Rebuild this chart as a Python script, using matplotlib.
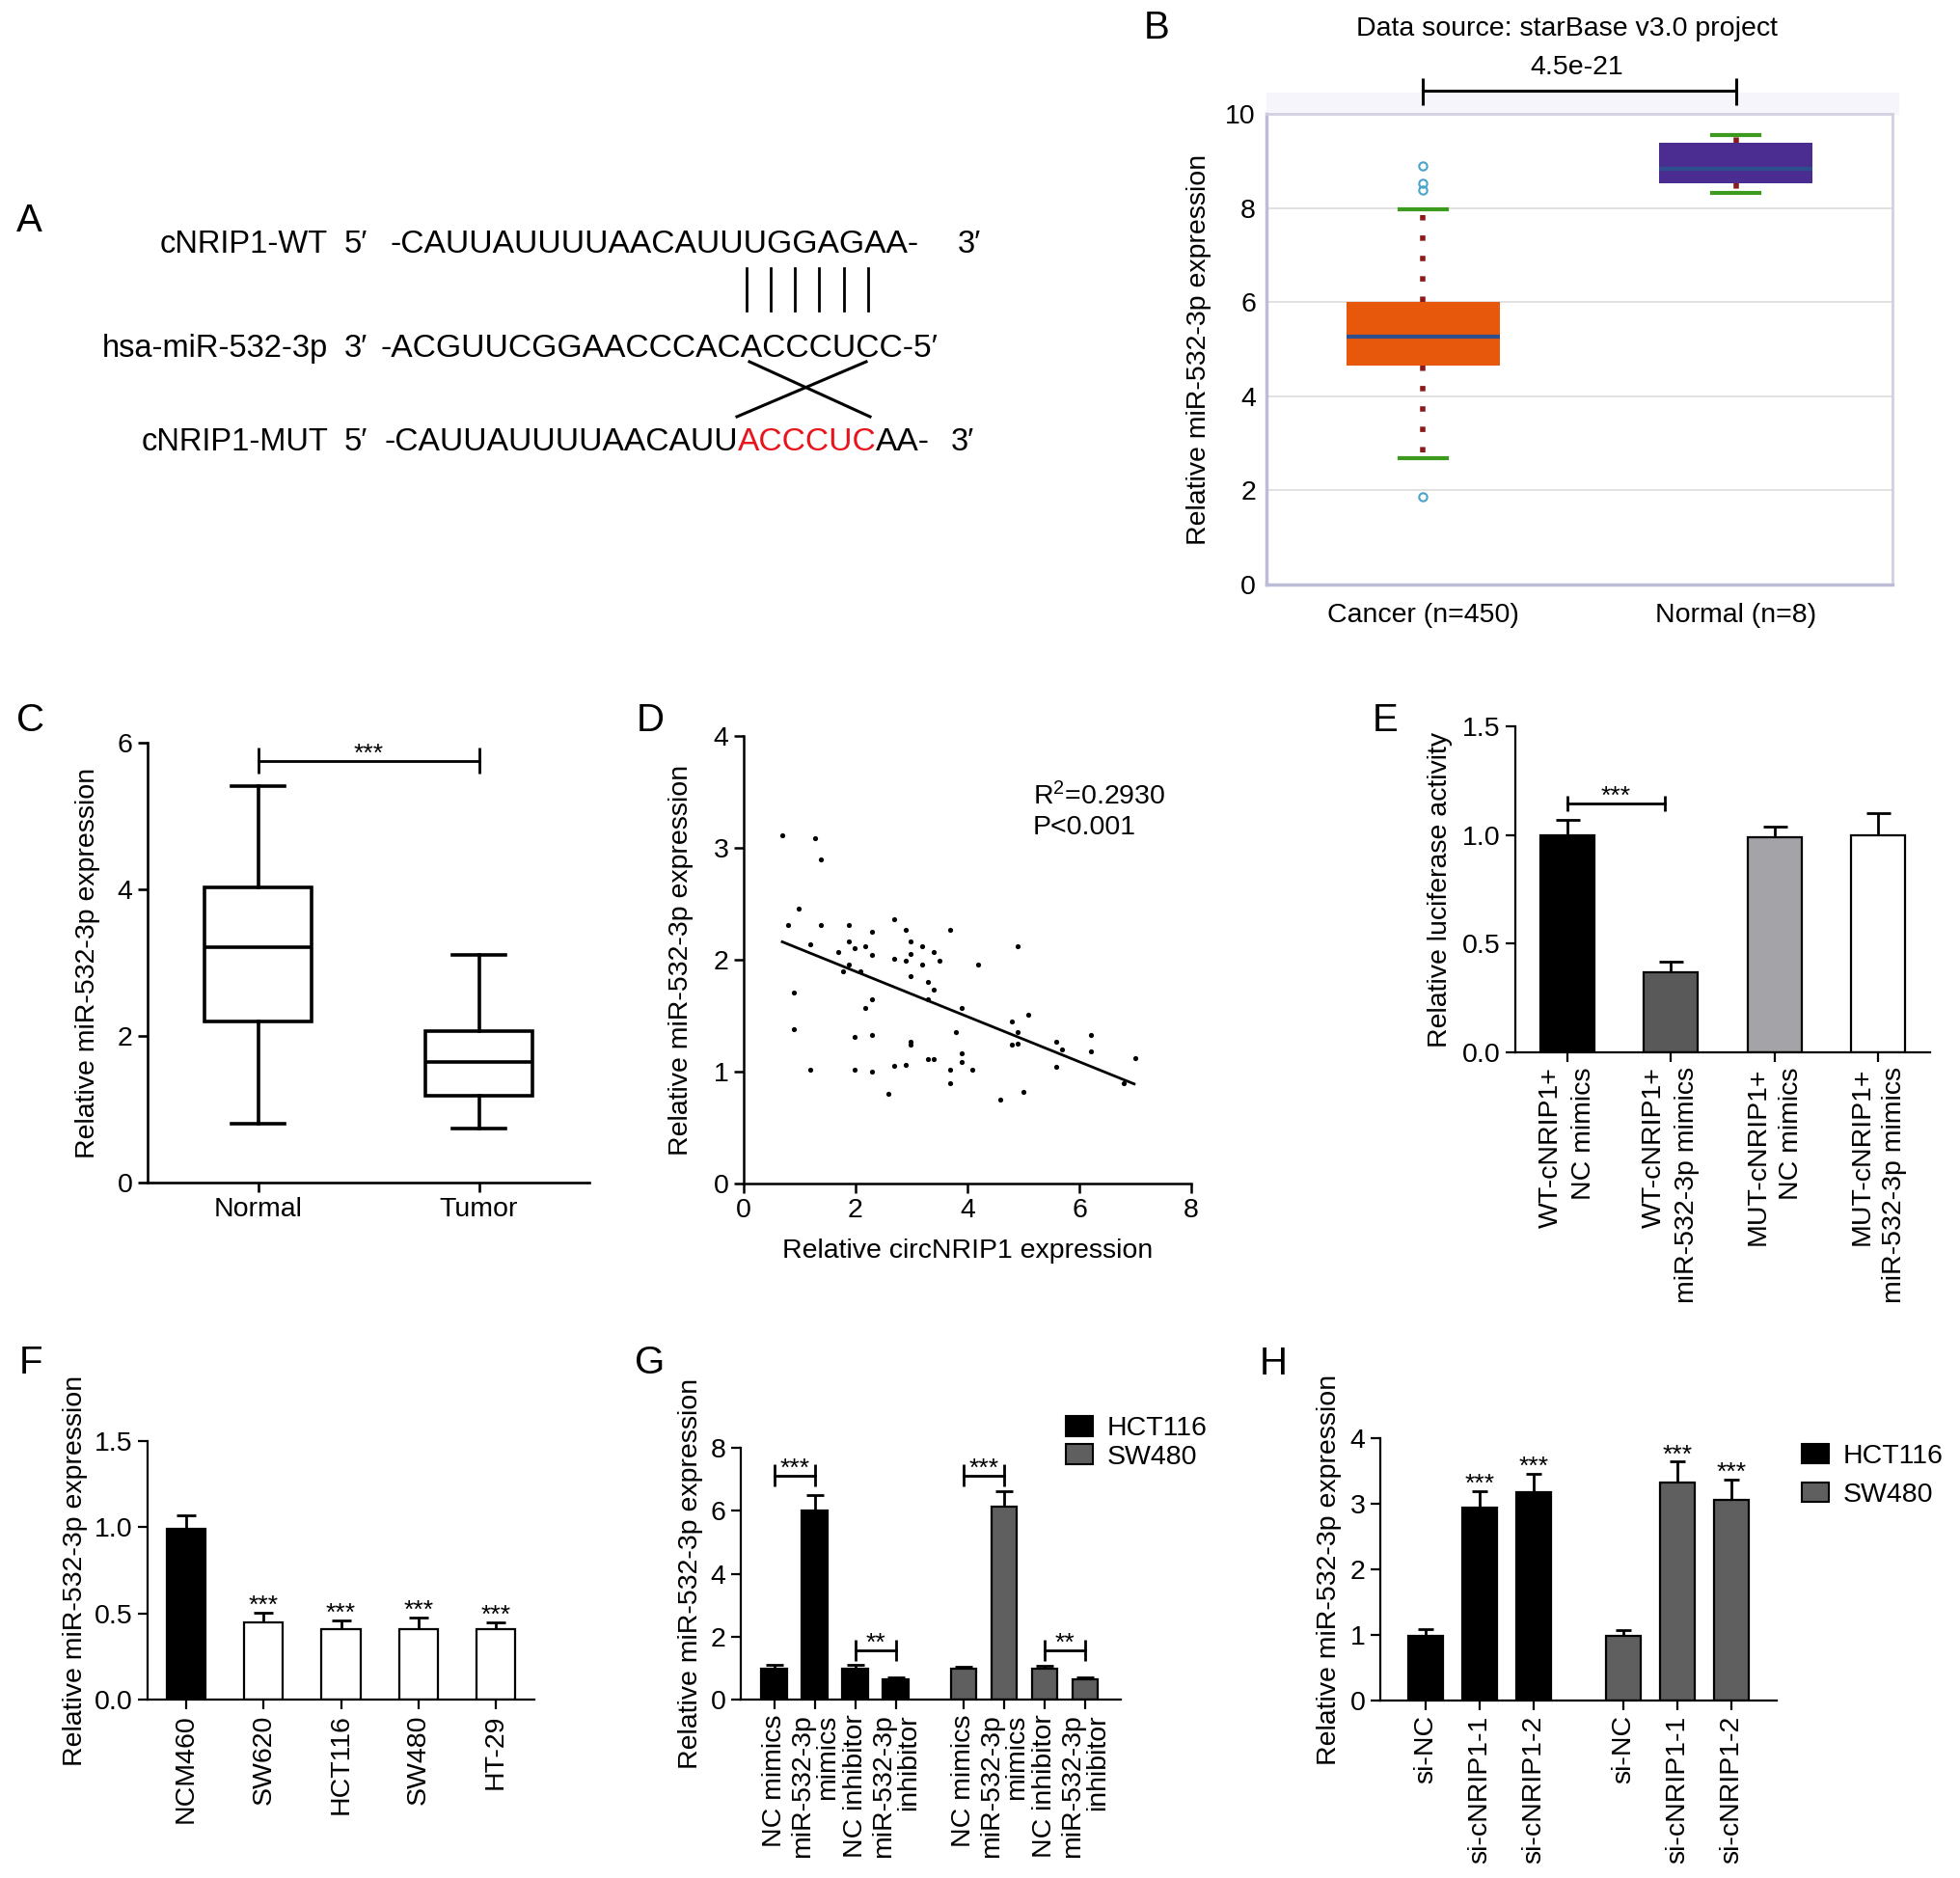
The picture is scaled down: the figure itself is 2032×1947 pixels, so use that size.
import numpy as np
import matplotlib
matplotlib.use("Agg")
import matplotlib.pyplot as plt
from matplotlib.patches import Patch, Rectangle

plt.rcParams['font.family'] = ['Liberation Sans', 'DejaVu Sans']
plt.rcParams['font.size'] = 20.5
plt.rcParams['mathtext.fontset'] = 'custom'
plt.rcParams['mathtext.rm'] = 'Liberation Sans'
plt.rcParams['mathtext.it'] = 'Liberation Sans:italic'

W, H = 2032, 1947

# A: binding site sequences
wt_name, wt_seq = 'cNRIP1-WT', '-CAUUAUUUUAACAUUUGGAGAA-'
mir_name, mir_seq = 'hsa-miR-532-3p', '-ACGUUCGGAACCCACACCCUCC-5\u2032'
mut_name = 'cNRIP1-MUT'
mut_seq = ['-CAUUAUUUUAACAUU', 'ACCCUC', 'AA-']

# B: starBase box plot
b_groups = ['Cancer (n=450)', 'Normal (n=8)']
b_q1 = [4.66, 8.52]
b_med = [5.27, 8.84]
b_q3 = [6.0, 9.39]
b_lo = [2.68, 8.32]
b_hi = [7.97, 9.55]
b_fliers = [[8.9, 8.53, 8.38, 1.87], []]
b_colors = ['#e8580c', '#4b2c91']
b_pvalue = '4.5e-21'

# C: tissue box plot
c_groups = ['Normal', 'Tumor']
c_q1 = [2.2, 1.18]
c_med = [3.21, 1.65]
c_q3 = [4.02, 2.07]
c_lo = [0.8, 0.74]
c_hi = [5.41, 3.1]

# D: correlation scatter
d_x = [0.69, 1.28, 1.38, 0.99, 0.79, 1.38, 1.19, 0.89, 0.89, 1.19,
       1.69, 1.88, 1.88, 1.99, 2.18, 2.29, 2.29, 1.88, 1.78, 2.08,
       2.18, 2.29, 1.99, 2.29, 1.99, 2.29, 2.59, 2.69, 2.89, 2.69,
       2.89, 2.99, 2.99, 2.99, 3.19, 3.19, 3.39, 3.50, 3.29, 3.39,
       3.29, 2.99, 2.99, 2.69, 2.89, 3.29, 3.39, 3.69, 3.69, 3.69,
       3.79, 3.89, 3.89, 3.89, 4.09, 4.19, 4.59, 4.80, 4.80, 4.89,
       4.89, 4.89, 5.09, 5.00, 5.59, 5.69, 5.59, 6.20, 6.20, 6.80, 7.00]
d_y = [3.11, 3.09, 2.90, 2.46, 2.31, 2.31, 2.14, 1.71, 1.38, 1.02,
       2.07, 2.31, 2.16, 2.10, 2.12, 2.25, 2.04, 1.96, 1.90, 1.90,
       1.57, 1.65, 1.31, 1.33, 1.02, 1.00, 0.80, 2.36, 2.27, 2.01,
       1.99, 2.16, 2.05, 1.85, 2.12, 1.96, 2.07, 1.99, 1.80, 1.73,
       1.65, 1.27, 1.24, 1.05, 1.06, 1.11, 1.11, 2.27, 1.02, 0.90,
       1.35, 1.57, 1.16, 1.09, 1.02, 1.96, 0.75, 1.45, 1.24, 2.12,
       1.35, 1.25, 1.51, 0.82, 1.27, 1.20, 1.04, 1.33, 1.18, 0.90, 1.12]
d_fit_x = [0.69, 6.98]
d_fit_y = [2.16, 0.89]

# E: luciferase
e_groups = ['WT-cNRIP1+\nNC mimics', 'WT-cNRIP1+\nmiR-532-3p mimics',
            'MUT-cNRIP1+\nNC mimics', 'MUT-cNRIP1+\nmiR-532-3p mimics']
e_vals = [1.0, 0.37, 0.99, 1.0]
e_err = [0.07, 0.045, 0.05, 0.1]
e_colors = ['#000000', '#595959', '#a3a3a8', '#ffffff']

# F: cell lines
f_groups = ['NCM460', 'SW620', 'HCT116', 'SW480', 'HT-29']
f_vals = [0.99, 0.45, 0.41, 0.41, 0.41]
f_err = [0.08, 0.055, 0.05, 0.065, 0.04]
f_colors = ['#000000', '#ffffff', '#ffffff', '#ffffff', '#ffffff']

# G: mimics / inhibitor
g_groups = ['NC mimics', 'miR-532-3p\nmimics', 'NC inhibitor', 'miR-532-3p\ninhibitor']
g_hct = [0.98, 6.0, 0.98, 0.63]
g_hct_err = [0.12, 0.5, 0.12, 0.07]
g_sw = [0.98, 6.13, 0.98, 0.63]
g_sw_err = [0.06, 0.5, 0.09, 0.06]

# H: knockdown
h_groups = ['si-NC', 'si-cNRIP1-1', 'si-cNRIP1-2']
h_hct = [0.99, 2.94, 3.17]
h_hct_err = [0.1, 0.25, 0.29]
h_sw = [0.98, 3.32, 3.06]
h_sw_err = [0.09, 0.32, 0.31]

cell_lines = ['HCT116', 'SW480']
cell_colors = ['#000000', '#5f5f5f']
ylab = 'Relative miR-532-3p expression'

fig = plt.figure(figsize=(W / 100, H / 100), dpi=100)


def px_axes(x0, y0, x1, y1):
    return fig.add_axes([x0 / W, 1 - y1 / H, (x1 - x0) / W, (y1 - y0) / H])


def prism(ax, lw=1.6):
    ax.spines[['top', 'right']].set_visible(False)
    ax.spines[['left', 'bottom']].set_linewidth(lw)
    ax.tick_params(direction='out', length=7, width=lw, pad=4)


def bracket(ax, x0, x1, y, h, label, lw=2):
    ax.plot([x0, x1], [y, y], color='k', lw=lw, clip_on=False)
    ax.vlines([x0, x1], y - h, y + h, color='k', lw=lw, clip_on=False)
    ax.text((x0 + x1) / 2, y, label, ha='center', va='baseline', fontsize=19)


def bars(ax, x, vals, err, colors, width, capsize):
    ax.errorbar(x, vals, yerr=[np.zeros(len(vals)), err], fmt='none', ecolor='k',
                elinewidth=2, capsize=capsize, capthick=2, zorder=1, clip_on=False)
    ax.bar(x, vals, width=width, color=colors, edgecolor='k', linewidth=1.6, zorder=2)


def set_ylabel(ax, text, xpos):
    ax.set_ylabel(text, va='center')
    ax.yaxis.set_label_coords(xpos, 0.5)


# ---------- B ----------
axB = px_axes(1313, 118, 1962, 606)
b_stats = [dict(med=m, q1=a, q3=b, whislo=lo, whishi=hi, fliers=fl, label=g)
           for g, a, m, b, lo, hi, fl in zip(b_groups, b_q1, b_med, b_q3, b_lo, b_hi, b_fliers)]
bp = axB.bxp(b_stats, positions=[0, 1], widths=0.49, capwidths=0.15, patch_artist=True,
             boxprops=dict(edgecolor='none'),
             medianprops=dict(color='#2d4f8e', linewidth=3),
             whiskerprops=dict(color='#8b1a1a', linewidth=4, linestyle=(0, (1, 2.8))),
             capprops=dict(color='#3c9a1e', linewidth=3),
             flierprops=dict(marker='o', markerfacecolor='none', markeredgecolor='#4aa3c8',
                             markersize=6, markeredgewidth=1.5))
for patch, col in zip(bp['boxes'], b_colors):
    patch.set_facecolor(col)
axB.set_xlim(-0.5, 1.5)
axB.set_ylim(0, 10)
axB.set_yticks(range(0, 11, 2))
axB.grid(axis='y', color='#dcdcdc', linewidth=1.2)
axB.set_axisbelow(True)
for s in ['left', 'bottom']:
    axB.spines[s].set_color('#bcbcd6')
    axB.spines[s].set_linewidth(2.5)
for s in ['top', 'right']:
    axB.spines[s].set_color('#d0d0e0')
    axB.spines[s].set_linewidth(2)
axB.tick_params(axis='y', length=0, pad=8)
axB.tick_params(axis='x', length=0, pad=14)
axB.add_patch(Rectangle((0, 1), 1.01, 0.045, transform=axB.transAxes, color='#f5f5fb',
                        clip_on=False, zorder=0))
set_ylabel(axB, ylab, -0.108)
axB.plot([0, 1], [10.49, 10.49], color='k', lw=2.2, clip_on=False)
axB.vlines([0, 1], 10.18, 10.76, color='k', lw=2.2, clip_on=False)
axB.text(0.49, 10.98, b_pvalue, ha='center', va='center')
axB.text(0.46, 11.8, 'Data source: starBase v3.0 project', ha='center', va='center')

# ---------- C ----------
axC = px_axes(153, 770, 611, 1226)
c_stats = [dict(med=m, q1=a, q3=b, whislo=lo, whishi=hi, fliers=[], label=g)
           for g, a, m, b, lo, hi in zip(c_groups, c_q1, c_med, c_q3, c_lo, c_hi)]
lw_c = 2.6
axC.bxp(c_stats, positions=[0, 1], widths=0.485, capwidths=0.24, showfliers=False,
        patch_artist=True,
        boxprops=dict(facecolor='white', edgecolor='k', linewidth=lw_c),
        medianprops=dict(color='k', linewidth=lw_c),
        whiskerprops=dict(color='k', linewidth=lw_c),
        capprops=dict(color='k', linewidth=lw_c))
prism(axC, 1.9)
axC.set_xlim(-0.5, 1.5)
axC.set_ylim(0, 6)
axC.set_yticks([0, 2, 4, 6])
set_ylabel(axC, ylab, -0.135)
bracket(axC, 0, 1, 5.755, 0.18, '***')

# ---------- D ----------
axD = px_axes(771, 763, 1235, 1227)
axD.scatter(d_x, d_y, s=14, c='k', linewidths=0, zorder=3)
axD.plot(d_fit_x, d_fit_y, color='k', lw=2)
prism(axD, 1.8)
axD.set_xlim(0, 8)
axD.set_ylim(0, 4)
axD.set_xticks(range(0, 9, 2))
axD.set_yticks(range(0, 5))
set_ylabel(axD, ylab, -0.14)
axD.set_xlabel('Relative circNRIP1 expression', va='center')
axD.xaxis.set_label_coords(0.5, -0.151)
axD.text(5.17, 3.46, 'R$^{2}$=0.2930', ha='left', va='center')
axD.text(5.17, 3.18, 'P<0.001', ha='left', va='center')

# ---------- E ----------
axE = px_axes(1571, 753, 2001, 1091)
xe = np.arange(len(e_vals))
bars(axE, xe, e_vals, e_err, e_colors, 0.52, 9)
prism(axE, 1.6)
axE.set_xlim(-0.5, 3.5)
axE.set_ylim(0, 1.5)
axE.set_yticks([0.0, 0.5, 1.0, 1.5])
axE.yaxis.set_major_formatter(matplotlib.ticker.FormatStrFormatter('%.1f'))
axE.set_xticks(xe)
axE.set_xticklabels(e_groups, rotation=90, ha='center', va='top', multialignment='right',
                    linespacing=1.4)
set_ylabel(axE, 'Relative luciferase activity', -0.181)
bracket(axE, 0, 0.94, 1.145, 0.035, '***')

# ---------- F ----------
axF = px_axes(153, 1494, 554, 1762)
xf = np.arange(len(f_vals))
bars(axF, xf, f_vals, f_err, f_colors, 0.5, 7)
prism(axF, 1.6)
axF.set_xlim(-0.5, 4.5)
axF.set_ylim(0, 1.5)
axF.set_yticks([0.0, 0.5, 1.0, 1.5])
axF.yaxis.set_major_formatter(matplotlib.ticker.FormatStrFormatter('%.1f'))
axF.set_xticks(xf)
axF.set_xticklabels(f_groups, rotation=90, ha='center', va='top')
set_ylabel(axF, ylab, -0.187)
for x, v, e in zip(xf[1:], f_vals[1:], f_err[1:]):
    axF.text(x, v + e, '***', ha='center', va='baseline', fontsize=19)

# ---------- G ----------
axG = px_axes(768, 1501, 1162, 1762)
xg1 = np.arange(4)
xg2 = np.arange(4) + 4.67
bars(axG, xg1, g_hct, g_hct_err, cell_colors[0], 0.64, 6.5)
bars(axG, xg2, g_sw, g_sw_err, cell_colors[1], 0.64, 6.5)
prism(axG, 1.6)
axG.set_xlim(-0.83, 8.55)
axG.set_ylim(0, 8)
axG.set_yticks(range(0, 9, 2))
axG.set_xticks(np.concatenate([xg1, xg2]))
axG.set_xticklabels(g_groups * 2, rotation=90, ha='center', va='top', multialignment='right',
                    linespacing=1.0)
set_ylabel(axG, ylab, -0.132)
for xs in (xg1, xg2):
    bracket(axG, xs[0], xs[1], 7.12, 0.36, '***')
    bracket(axG, xs[2], xs[3], 1.57, 0.33, '**')
fig.legend(handles=[Patch(facecolor=c, edgecolor='k', linewidth=1.5) for c in cell_colors],
           labels=cell_lines, loc='upper left', bbox_to_anchor=(1105 / W, 1 - 1468 / H),
           frameon=False, handlelength=1.0, handleheight=0.75, handletextpad=0.5,
           labelspacing=0.1, borderpad=0, borderaxespad=0)

# ---------- H ----------
axH = px_axes(1431, 1491, 1842, 1763)
xh1 = np.arange(3)
xh2 = np.arange(3) + 3.65
bars(axH, xh1, h_hct, h_hct_err, cell_colors[0], 0.64, 6)
bars(axH, xh2, h_sw, h_sw_err, cell_colors[1], 0.64, 6)
prism(axH, 1.6)
axH.set_xlim(-0.84, 6.49)
axH.set_ylim(0, 4)
axH.set_yticks(range(0, 5))
axH.set_xticks(np.concatenate([xh1, xh2]))
axH.set_xticklabels(h_groups * 2, rotation=90, ha='center', va='top')
set_ylabel(axH, ylab, -0.129)
for xs, vals, errs in ((xh1, h_hct, h_hct_err), (xh2, h_sw, h_sw_err)):
    for x, v, e in zip(xs[1:], vals[1:], errs[1:]):
        axH.text(x, v + e, '***', ha='center', va='baseline', fontsize=19)
fig.legend(handles=[Patch(facecolor=c, edgecolor='k', linewidth=1.5) for c in cell_colors],
           labels=cell_lines, loc='upper left', bbox_to_anchor=(1868 / W, 1 - 1497 / H),
           frameon=False, handlelength=1.0, handleheight=0.7, handletextpad=0.5,
           labelspacing=0.5, borderpad=0, borderaxespad=0)

# ---------- overlay: panel A and letters ----------
ov = fig.add_axes([0, 0, 1, 1])
ov.set_xlim(0, W)
ov.set_ylim(H, 0)
ov.axis('off')

fs_a = 23.5
fs_seq = 24.2
for name, y in ((wt_name, 262), (mir_name, 370), (mut_name, 467)):
    ov.text(340, y, name, ha='right', va='baseline', fontsize=fs_a)
ov.text(357, 262, '5\u2032', ha='left', va='baseline', fontsize=fs_a)
ov.text(357, 370, '3\u2032', ha='left', va='baseline', fontsize=fs_a)
ov.text(357, 467, '5\u2032', ha='left', va='baseline', fontsize=fs_a)
ov.text(404, 262, wt_seq, ha='left', va='baseline', fontsize=fs_seq)
ov.text(993, 262, '3\u2032', ha='left', va='baseline', fontsize=fs_a)
ov.text(394, 370, mir_seq, ha='left', va='baseline', fontsize=fs_seq)
prev = ov.text(398, 467, mut_seq[0], ha='left', va='baseline', fontsize=fs_seq)
for part, col in zip(mut_seq[1:], ['#e8141c', 'k']):
    prev = ov.annotate(part, xy=(1, 0), xycoords=prev, ha='left', va='bottom',
                       fontsize=fs_seq, color=col)
ov.text(986, 467, '3\u2032', ha='left', va='baseline', fontsize=fs_a)
for x in [774, 799, 824, 849, 875, 900]:
    ov.plot([x, x], [278, 322], color='k', lw=2)
ov.plot([777, 902], [375, 432], color='k', lw=2.2)
ov.plot([898, 764], [375, 432], color='k', lw=2.2)

for letter, x, y in (('A', 30, 229), ('B', 1199, 29), ('C', 32, 747), ('D', 674, 747),
                     ('E', 1436, 747), ('F', 32, 1413), ('G', 674, 1413), ('H', 1320, 1414)):
    ov.text(x, y, letter, ha='center', va='center', fontsize=29)

fig.savefig('out.png', dpi=100)
